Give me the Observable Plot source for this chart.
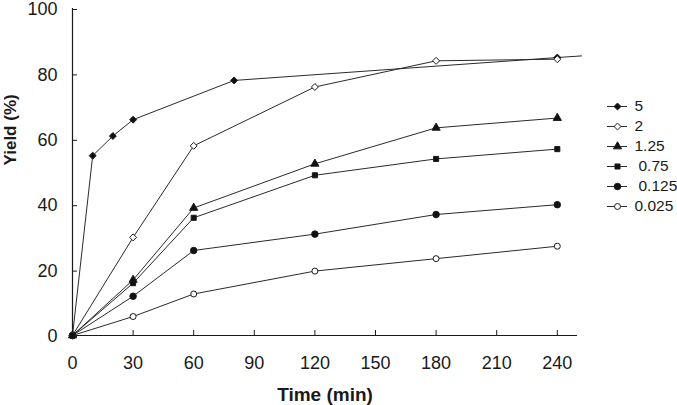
<!DOCTYPE html>
<html><head><meta charset="utf-8">
<script src="https://cdn.jsdelivr.net/npm/d3@7"></script>
<script src="https://cdn.jsdelivr.net/npm/@observablehq/plot@0.6"></script>
<style>
body{margin:0;background:#fff}
#wrap{position:relative;width:677px;height:405px;overflow:hidden}
#legend{position:absolute;left:607px;top:90px;width:70px;height:132px}
#legend svg{overflow:visible;max-width:none}
#main svg{overflow:visible}
</style>
</head><body><div id="wrap"><div id="main"></div><div id="legend"></div></div>
<script>
// ---- data ----
const seriesNames = ["5", "2", "1.25", "0.75", "0.125", "0.025"];
const indentedNames = ["0.75", "0.125"]; // legend labels printed with a leading space in the original
const times = [0, 30, 60, 120, 180, 240];
const times5 = [0, 10, 20, 30, 80, 240];
const yield5 = [0, 55, 61, 66, 78, 85];
const tail5 = [252, 85.5]; // line of series 5 runs slightly past the last point
const yield2 = [0, 30, 58, 76, 84, 84.5];
const yield125 = [0, 17, 39, 52.5, 63.5, 66.5];
const yield075 = [0, 16, 36, 49, 54, 57];
const yield0125 = [0, 12, 26, 31, 37, 40];
const yield0025 = [0, 5.8, 12.7, 19.7, 23.5, 27.3];
const xTicks = [0, 30, 60, 90, 120, 150, 180, 210, 240];
const yTicks = [0, 20, 40, 60, 80, 100];
const xLabel = "Time (min)";
const yLabel = "Yield (%)";

// ---- styles ----
const symbols = {"5": "diamond2", "2": "diamond2", "1.25": "triangle", "0.75": "square", "0.125": "circle", "0.025": "circle"};
const fills = {"5": "#111", "2": "white", "1.25": "#111", "0.75": "#111", "0.125": "#111", "0.025": "white"};
const radii = {"5": 3.6, "2": 3.6, "1.25": 3.4, "0.75": 3.0, "0.125": 3.9, "0.025": 3.3};

const seriesY = [yield5, yield2, yield125, yield075, yield0125, yield0025];
const points = [];
seriesNames.forEach((s, i) => {
  const ts = i === 0 ? times5 : times;
  ts.forEach((t, j) => points.push({series: s, t, y: seriesY[i][j]}));
});
const linePts = [...points, {series: "5", t: tail5[0], y: tail5[1]}];

const font = "'Liberation Sans', Arial, sans-serif";
const ink = "#1a1a1a";

const main = Plot.plot({
  width: 677, height: 405,
  marginLeft: 72, marginRight: 100, marginTop: 8, marginBottom: 70,
  style: {fontFamily: font, fontSize: "18px", color: ink, background: "white"},
  x: {domain: [0, 250]},
  y: {domain: [0, 100]},
  marks: [
    Plot.ruleY([0], {stroke: ink, strokeWidth: 1.2}),
    Plot.ruleX([0], {stroke: ink, strokeWidth: 1.2}),
    Plot.axisX({ticks: xTicks, tickSize: -5, tickPadding: 26, label: null, stroke: ink, fill: ink}),
    Plot.axisY({ticks: yTicks, tickSize: -5, tickPadding: 20, dy: 1, label: null, stroke: ink, fill: ink}),
    Plot.line(linePts, {x: "t", y: "y", z: "series", stroke: "#2a2a2a", strokeWidth: 1}),
    Plot.dot(points, {x: "t", y: "y", symbol: d => symbols[d.series], r: d => radii[d.series],
      fill: d => fills[d.series], stroke: ink, strokeWidth: 1}),
    Plot.text([xLabel], {frameAnchor: "bottom", dy: 59, fontWeight: "bold", fontSize: 19, fill: ink, lineAnchor: "middle"}),
    Plot.text([yLabel], {frameAnchor: "left", dx: -62, dy: -6.5, rotate: -90, fontWeight: "bold", fontSize: 17, fill: ink, lineAnchor: "middle"})
  ]
});
document.getElementById("main").appendChild(main);

const plainNames = seriesNames.filter(s => !indentedNames.includes(s));
const legend = Plot.plot({
  width: 70, height: 132,
  marginLeft: 0, marginRight: 50, marginTop: 14, marginBottom: 14,
  style: {fontFamily: font, fontSize: "15.5px", color: ink, background: "transparent", overflow: "visible"},
  y: {type: "point", domain: seriesNames, padding: 0, axis: null},
  symbol: {domain: seriesNames, range: seriesNames.map(s => symbols[s])},
  marks: [
    Plot.ruleY(seriesNames, {y: d => d, stroke: "#2a2a2a", strokeWidth: 1}),
    Plot.dot(seriesNames, {y: d => d, frameAnchor: "middle", symbol: d => d, r: d => radii[d],
      fill: d => fills[d], stroke: ink, strokeWidth: 1}),
    Plot.text(plainNames, {y: d => d, text: d => d, frameAnchor: "right", dx: 7, textAnchor: "start", fill: ink, fontSize: 15.5}),
    Plot.text(indentedNames, {y: d => d, text: d => d, frameAnchor: "right", dx: 11, textAnchor: "start", fill: ink, fontSize: 15.5})
  ]
});
document.getElementById("legend").appendChild(legend);
</script></body></html>
